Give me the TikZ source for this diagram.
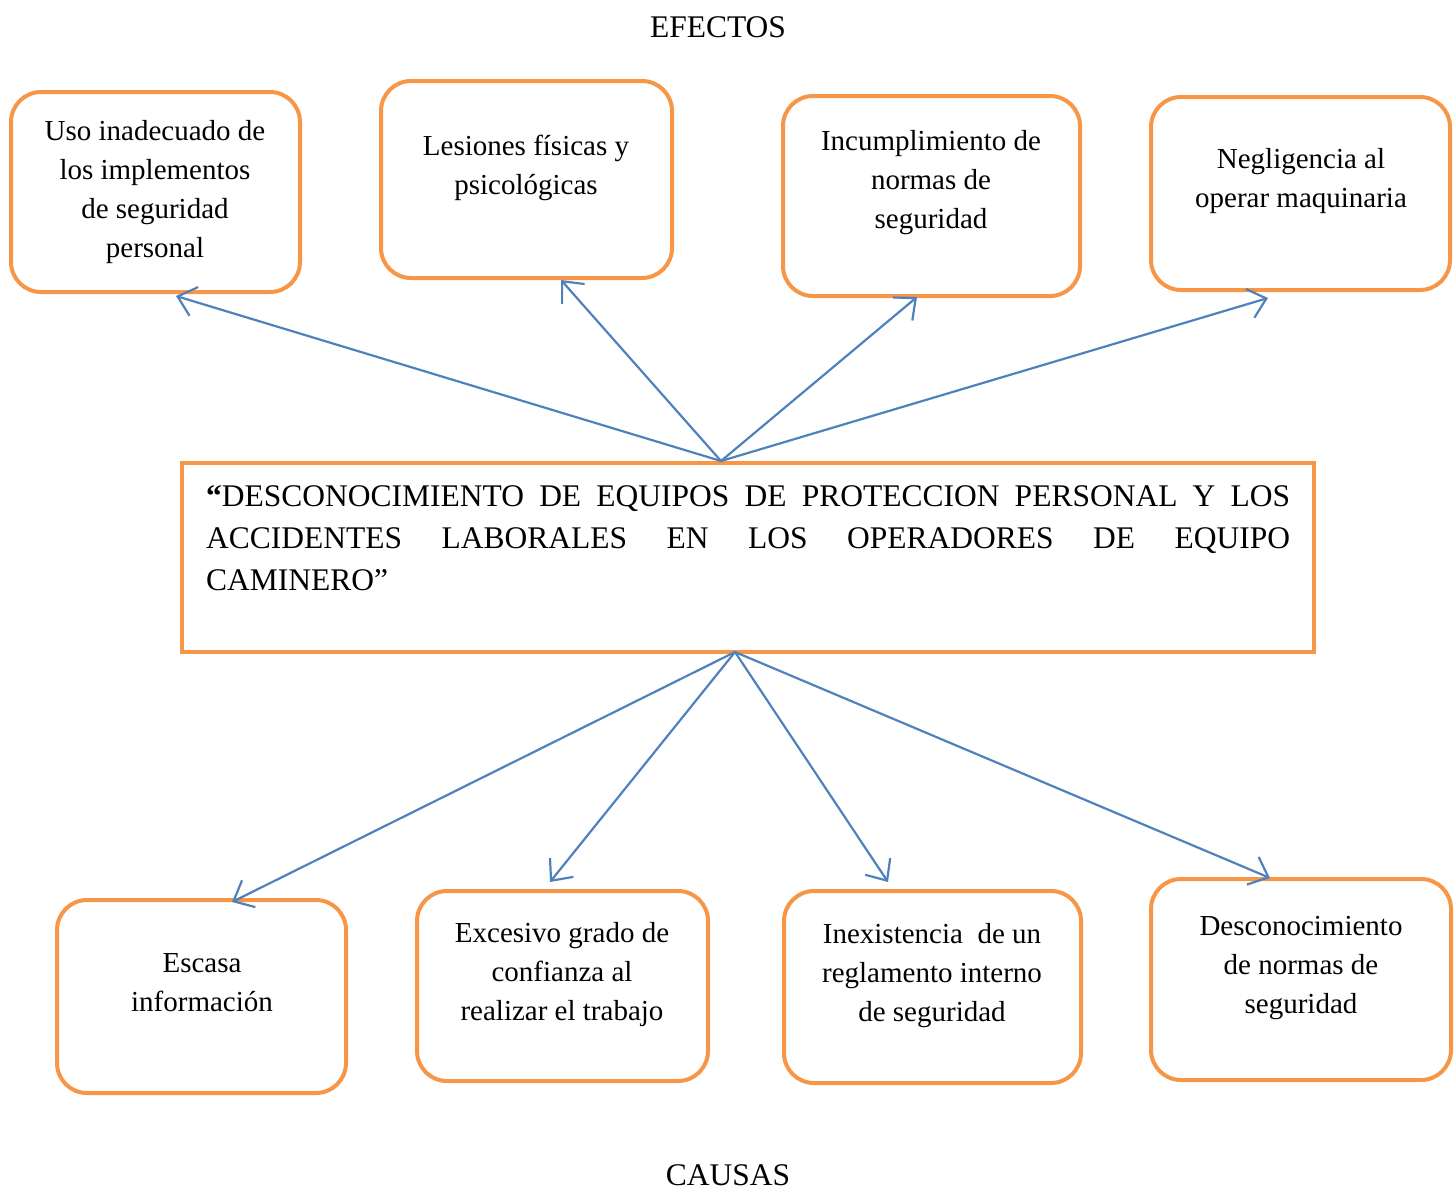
\documentclass[tikz,border=0pt]{standalone}
\usepackage{fontspec}
\setmainfont{Liberation Serif}
\usetikzlibrary{arrows.meta}
\definecolor{boxorange}{HTML}{F79646}
\definecolor{arrowblue}{HTML}{4F81BD}
\begin{document}
\begin{tikzpicture}[x=1pt,y=-1pt,
  rbox/.style={draw=boxorange,line width=4pt,rounded corners=30pt,inner sep=0pt},
  mainbox/.style={draw=boxorange,line width=4pt,inner sep=0pt,minimum width=1132pt,minimum height=189pt},
  boxtext/.style={align=center,inner sep=0pt,font=\fontsize{29}{39}\selectfont},
  title/.style={inner sep=0pt,font=\fontsize{31.5}{42}\selectfont},
  arr/.style={draw=arrowblue,line width=2.2pt,-{Straight Barb[length=17pt,width=30pt,line width=2.2pt]}}]
\useasboundingbox (0,0) rectangle (1455,1191);
% titles
\node[title] (efectos) at (718,27) {EFECTOS};
\node[title] (causas) at (728,1175) {CAUSAS};
% effect boxes
\node[rbox,minimum width=289pt,minimum height=200pt] (b1) at (155.5,192) {};
\node[rbox,minimum width=291pt,minimum height=197pt] (b2) at (526.5,179.5) {};
\node[rbox,minimum width=297pt,minimum height=200pt] (b3) at (931.5,196) {};
\node[rbox,minimum width=299pt,minimum height=193pt] (b4) at (1300.5,193.5) {};
\node[boxtext] (t1) at (155,192) {Uso inadecuado de\\los implementos\\de seguridad\\personal};
\node[boxtext] (t2) at (526,168) {Lesiones físicas y\\psicológicas};
\node[boxtext] (t3) at (931,183) {Incumplimiento de\\normas de\\seguridad};
\node[boxtext] (t4) at (1301,181) {Negligencia al\\operar maquinaria};
% main box
\node[mainbox] (main) at (748,557.5) {};
\node[inner sep=0pt,anchor=north west,text width=1084pt,align=justify,
  font=\fontsize{31.5}{42}\selectfont] (maintext) at (206,485)
  {\textbf{“}DESCONOCIMIENTO DE EQUIPOS DE PROTECCION PERSONAL Y LOS\linebreak
   ACCIDENTES LABORALES EN LOS OPERADORES DE EQUIPO\linebreak
   CAMINERO”};
% cause boxes
\node[rbox,minimum width=289pt,minimum height=193pt] (c1) at (201.5,996.5) {};
\node[rbox,minimum width=291pt,minimum height=190pt] (c2) at (562.5,986) {};
\node[rbox,minimum width=297pt,minimum height=192pt] (c3) at (932.5,987) {};
\node[rbox,minimum width=300pt,minimum height=201pt] (c4) at (1301,979.5) {};
\node[boxtext] (u1) at (202,983) {Escasa\\información};
\node[boxtext] (u2) at (562,975) {Excesivo grado de\\confianza al\\realizar el trabajo};
\node[boxtext] (u3) at (932,976) {Inexistencia\ \ de un\\reglamento interno\\de seguridad};
\node[boxtext] (u4) at (1301,968) {Desconocimiento\\de normas de\\seguridad};
% arrow ends
\coordinate (ts) at (721,461);
\coordinate (bs) at (735,652);
\coordinate (e1) at (176,296);
\coordinate (e2) at (561,280);
\coordinate (e3) at (917,297);
\coordinate (e4) at (1268,298);
\coordinate (k1) at (232,902);
\coordinate (k2) at (550,882);
\coordinate (k3) at (888,882);
\coordinate (k4) at (1270,878);
\foreach \e in {e1,e2,e3,e4} \draw[arr] (ts) -- (\e);
\foreach \k in {k1,k2,k3,k4} \draw[arr] (bs) -- (\k);
\end{tikzpicture}
\end{document}
